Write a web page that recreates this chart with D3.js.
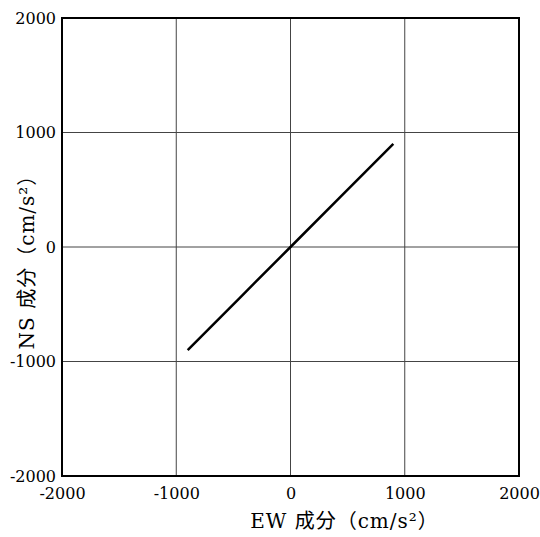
<!DOCTYPE html>
<html>
<head>
<meta charset="utf-8">
<script src="https://cdn.jsdelivr.net/npm/d3@7/dist/d3.min.js"></script>
<style>
  html, body { margin: 0; padding: 0; background: #fff; }
  svg { display: block; }
</style>
</head>
<body>
<svg id="chart" width="540" height="537"></svg>
<script>
// Orbit of acceleration: EW vs NS components (cm/s²)
const ewValues = [-900, -450, 0, 450, 900];
const nsValues = [-900, -450, 0, 450, 900];
const tickValues = [-2000, -1000, 0, 1000, 2000];
const xTitle = "EW 成分（cm/s²）";
const yTitle = "NS 成分（cm/s²）";

const FONT = "DejaVu Serif, Noto Sans CJK JP";
const margin = { left: 62, right: 21, top: 18, bottom: 61 };
const W = 540, H = 537;
const svg = d3.select("#chart");

const x = d3.scaleLinear().domain([-2000, 2000]).range([margin.left, W - margin.right]);
const y = d3.scaleLinear().domain([-2000, 2000]).range([H - margin.bottom, margin.top]);

// interior grid at the 1000 steps
const g = svg.append("g");
g.selectAll("line.vx").data(tickValues.slice(1, -1)).join("line")
  .attr("x1", d => x(d)).attr("x2", d => x(d))
  .attr("y1", y(2000)).attr("y2", y(-2000))
  .attr("stroke", "#444").attr("stroke-width", 1);
g.selectAll("line.hy").data(tickValues.slice(1, -1)).join("line")
  .attr("y1", d => y(d)).attr("y2", d => y(d))
  .attr("x1", x(-2000)).attr("x2", x(2000))
  .attr("stroke", "#444").attr("stroke-width", 1);

// tick labels, plain hyphen for negatives
const fmt = d => String(d);
const xAxis = d3.axisBottom(x).tickValues(tickValues).tickSize(0).tickPadding(12).tickFormat(fmt);
const yAxis = d3.axisLeft(y).tickValues(tickValues).tickSize(0).tickPadding(6).tickFormat(fmt);
const xa = svg.append("g").attr("transform", `translate(0,${y(-2000)})`).call(xAxis);
const ya = svg.append("g").attr("transform", `translate(${x(-2000)},0)`).call(yAxis);
[xa, ya].forEach(a => {
  a.attr("font-family", FONT).attr("font-size", 16);
  a.select(".domain").remove();
  a.selectAll("text").attr("fill", "#000");
});

// acceleration trace
const pts = ewValues.map((e, i) => [e, nsValues[i]]);
svg.append("path")
  .datum(pts)
  .attr("d", d3.line().x(d => x(d[0])).y(d => y(d[1])))
  .attr("fill", "none").attr("stroke", "#000").attr("stroke-width", 2.5);

// plot frame
svg.append("rect")
  .attr("x", x(-2000)).attr("y", y(2000))
  .attr("width", x(2000) - x(-2000)).attr("height", y(-2000) - y(2000))
  .attr("fill", "none").attr("stroke", "#000").attr("stroke-width", 2);

// axis titles
svg.append("text").attr("x", x(0) + 54).attr("y", 528)
  .attr("text-anchor", "middle").attr("font-size", 20)
  .attr("letter-spacing", 1)
  .attr("font-family", FONT).text(xTitle);
svg.append("text").attr("transform", `translate(34,${y(0) + 10}) rotate(-90)`)
  .attr("text-anchor", "middle").attr("font-size", 20)
  .attr("letter-spacing", 1)
  .attr("font-family", FONT).text(yTitle);
</script>
</body>
</html>
